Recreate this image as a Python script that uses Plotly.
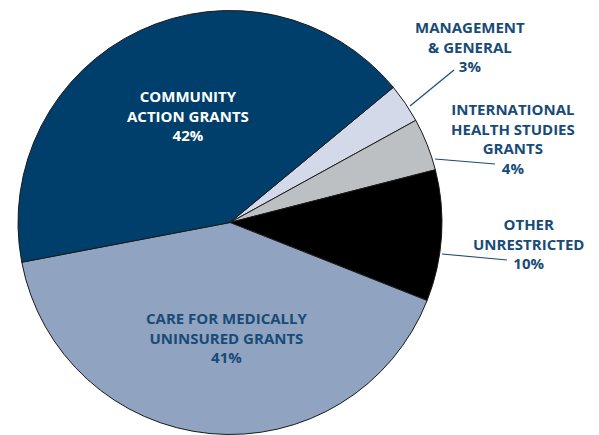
import plotly.graph_objects as go

labels = ["MANAGEMENT<br>& GENERAL", "INTERNATIONAL<br>HEALTH STUDIES<br>GRANTS", "OTHER<br>UNRESTRICTED",
          "CARE FOR MEDICALLY<br>UNINSURED GRANTS", "COMMUNITY<br>ACTION GRANTS"]
values = [3, 4, 10, 41, 42]
colors = ["#d3d9e8", "#bdc0c2", "#000000", "#90a3c0", "#003f6b"]

W, H = 599, 435
TXT = "#184b77"
FONT = "Open Sans"

fig = go.Figure(go.Pie(
    labels=labels, values=values, sort=False, direction="clockwise", rotation=50.4,
    marker=dict(colors=colors, line=dict(color="#1a1a1a", width=1)),
    textinfo="none", hoverinfo="label+percent", showlegend=False,
    domain=dict(x=[18 / W, 442 / W], y=[0, 1 - 10 / H]),
))

def px(x, y):
    return x / W, 1 - y / H

# label positions (pixel centers) and leader lines
lab_pos = [(470, 47), (513, 138), (528, 243), (227, 337), (188, 115)]
lab_col = [TXT, TXT, TXT, TXT, "white"]
leaders = [((410, 106), (454, 70)), ((435, 159), (495, 164)), ((442, 254), (507, 260))]

anns = []
for lab, v, (x, y), c in zip(labels, values, lab_pos, lab_col):
    xx, yy = px(x, y)
    anns.append(dict(text=f"<b>{lab}<br>{v}%</b>", x=xx, y=yy, xref="paper", yref="paper",
                     showarrow=False, font=dict(family=FONT, size=15, color=c),
                     align="center", xanchor="center", yanchor="middle"))

shapes = []
for (a, b) in leaders:
    x0, y0 = px(*a)
    x1, y1 = px(*b)
    shapes.append(dict(type="line", x0=x0, y0=y0, x1=x1, y1=y1, xref="paper", yref="paper",
                       line=dict(color=TXT, width=1.2)))

fig.update_layout(width=W, height=H, margin=dict(l=0, r=0, t=0, b=0),
                  paper_bgcolor="white", plot_bgcolor="white",
                  annotations=anns, shapes=shapes)
fig.write_html("out.html", config={"displayModeBar": False})

# remove default page margin so the figure sits at the window origin
with open("out.html", encoding="utf-8") as f:
    html = f.read()
html = html.replace("<head>", "<head><style>html,body{margin:0;padding:0;overflow:hidden}</style>", 1)
with open("out.html", "w", encoding="utf-8") as f:
    f.write(html)
